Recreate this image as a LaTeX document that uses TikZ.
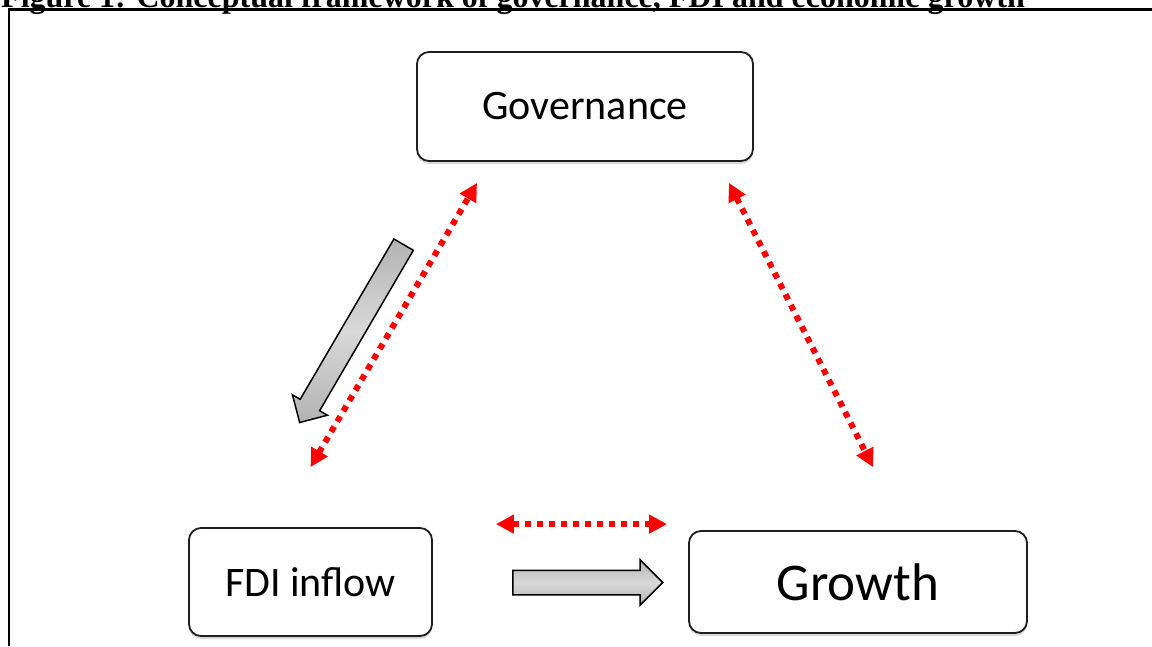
\documentclass[tikz,border=0pt]{standalone}
\usepackage{fontspec}
\setmainfont{Liberation Serif}
\newfontfamily\boxfont{Carlito}
\usetikzlibrary{shapes.arrows,arrows.meta,positioning,calc,shadows}
\definecolor{dotred}{RGB}{255,0,0}
\definecolor{edge}{RGB}{30,30,30}

\begin{document}
\begin{tikzpicture}[
    x=1pt, y=-1pt,
    concept/.style={rectangle, draw=edge, line width=1.8pt, fill=white, rounded corners=12pt, inner sep=0pt, font=\boxfont\fontsize{42}{50}\selectfont, drop shadow={shadow xshift=0pt, shadow yshift=-3pt, opacity=0.3}},
    link/.style={dotred, line width=6pt, dash pattern=on 6pt off 6pt, {Triangle[length=18pt,width=18pt]}-{Triangle[length=18pt,width=18pt]}},
    flow/.style={single arrow, draw=black, line width=1.5pt, inner xsep=0pt, text height=0pt, text depth=0pt, top color=gray!60, bottom color=gray!60, middle color=gray!30, single arrow tip angle=90}
]
    \useasboundingbox (0,0) rectangle (1152,646);

    % Caption and frame
    \node[anchor=base west, inner sep=0pt, font=\bfseries\fontsize{32}{38}\selectfont] (title) at (1,7) {Figure 1: Conceptual framework of governance, FDI and economic growth};
    \draw[line width=2.5pt] (1152,9.5) -- (9,9.5) -- (9,646);

    % Concept boxes
    \node[concept, minimum width=336pt, minimum height=109pt] (gov) at (585,106.5) {Governance};
    \node[concept, minimum width=243pt, minimum height=108pt] (fdi) at (310.5,582) {FDI inflow};
    \node[concept, minimum width=338pt, minimum height=102pt, font=\boxfont\fontsize{53}{60}\selectfont] (grw) at (858,582) {Growth};

    % Two-way links
    \draw[link] ($(fdi.north)+(0,-60)$) -- ($(gov.south)+(-108,21)$);
    \draw[link] ($(gov.south)+(144,21)$) -- ($(grw.north)+(15,-63)$);
    \draw[link] ($(fdi.north east)+(63,-3)$) -- ($(grw.north west)+(-21,-6)$);

    % Direction of influence
    \node[flow, minimum height=206pt, inner ysep=10.5pt, single arrow head extend=9pt, anchor=tail, rotate=-120.3] (govflow) at (404,244) {};
    \node[flow, minimum height=150pt, inner ysep=11.5pt, single arrow head extend=10.5pt, anchor=tail] (fdiflow) at (512,582.5) {};
\end{tikzpicture}
\end{document}
